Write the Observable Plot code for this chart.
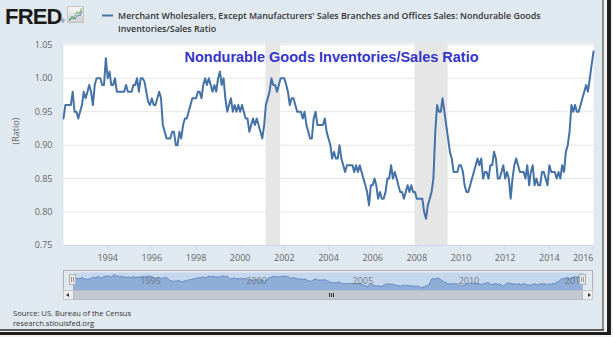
<!DOCTYPE html>
<html>
<head>
<meta charset="utf-8">
<script src="https://cdn.jsdelivr.net/npm/d3@7"></script>
<script src="https://cdn.jsdelivr.net/npm/@observablehq/plot@0.6"></script>
<style>
  body { margin: 0; background: #f4f4f4; }
  #wrap { position: relative; width: 613px; height: 337px; overflow: hidden; background: #f4f4f4; font-family: "Open Sans", sans-serif; }
  #page { position: absolute; left: 0; top: 0; width: 602px; height: 329px; background: #e1e9f0; overflow: hidden; }
  #main { position: absolute; left: 0; top: 0; }
  #nav { position: absolute; left: 63px; top: 270px; }
  .abs { position: absolute; }
</style>
</head>
<body>
<div id="wrap">
  <div id="page">
    <div id="main"></div>
    <div id="nav"></div>
    <!-- navigator outline -->
    <div class="abs" style="left:63px;top:270px;width:530px;height:1px;background:#b2b1b6"></div>
    <div class="abs" style="left:63px;top:270px;width:1px;height:20px;background:#b2b1b6"></div>
    <div class="abs" style="left:592px;top:270px;width:1px;height:20px;background:#b2b1b6"></div>
    <!-- navigator handles -->
    <div class="abs" style="left:69px;top:274px;width:7px;height:11px;background:#ebe7e8;border:1px solid #b2b1b6;box-sizing:border-box"></div>
    <div class="abs" style="left:71px;top:277px;width:1px;height:5px;background:#999"></div>
    <div class="abs" style="left:73px;top:277px;width:1px;height:5px;background:#999"></div>
    <div class="abs" style="left:579px;top:274px;width:7px;height:11px;background:#ebe7e8;border:1px solid #b2b1b6;box-sizing:border-box"></div>
    <div class="abs" style="left:581px;top:277px;width:1px;height:5px;background:#999"></div>
    <div class="abs" style="left:583px;top:277px;width:1px;height:5px;background:#999"></div>
    <!-- scrollbar -->
    <div class="abs" style="left:63px;top:290px;width:530px;height:10px;background:#eeeeee;border:1px solid #c8c8c8;box-sizing:border-box"></div>
    <div class="abs" style="left:73px;top:290px;width:510px;height:10px;background:#c2c9d1;border:1px solid #b4bcc4;box-sizing:border-box"></div>
    <div class="abs" style="left:66px;top:293px;width:0;height:0;border-top:2px solid transparent;border-bottom:2px solid transparent;border-right:3px solid #333"></div>
    <div class="abs" style="left:588px;top:293px;width:0;height:0;border-top:2px solid transparent;border-bottom:2px solid transparent;border-left:3px solid #333"></div>
    <div class="abs" style="left:329px;top:293px;width:1px;height:4px;background:#333"></div>
    <div class="abs" style="left:331px;top:293px;width:1px;height:4px;background:#333"></div>
    <div class="abs" style="left:333px;top:293px;width:1px;height:4px;background:#333"></div>
    <!-- header and footer texts -->
    <svg class="abs" style="left:0;top:0" width="602" height="329">
      <text x="5" y="23.5" font-family="'Liberation Sans', Arial, sans-serif" font-weight="bold" font-size="22" letter-spacing="-0.8" fill="#1a1a1a">FRED</text>
      <text x="61" y="23" font-family="'Liberation Sans', Arial, sans-serif" font-size="5" fill="#333">®</text>
      <defs><linearGradient id="ig" x1="0" y1="0" x2="0" y2="1"><stop offset="0" stop-color="#f6f6f6"/><stop offset="1" stop-color="#cfcfcf"/></linearGradient></defs>
      <rect x="67.5" y="6.5" width="16" height="16" fill="url(#ig)" stroke="#c4c4c4"/>
      <polyline points="69,20 72,16 74,18 77,12 79,14 82,8" fill="none" stroke="#67a94a" stroke-width="1"/>
      <polyline points="69,21 72,18 75,19 78,15 80,16 82,11" fill="none" stroke="#5a82bd" stroke-width="1"/>
      <line x1="102" y1="15.5" x2="113" y2="15.5" stroke="#4572a7" stroke-width="2"/>
      <text x="118" y="18.8" font-family="'Open Sans', sans-serif" font-weight="600" font-size="8.85" fill="#333">Merchant Wholesalers, Except Manufacturers' Sales Branches and Offices Sales: Nondurable Goods</text>
      <text x="118" y="31.7" font-family="'Open Sans', sans-serif" font-weight="600" font-size="8.85" fill="#333">Inventories/Sales Ratio</text>
      <text x="13" y="315.5" font-family="'Open Sans', sans-serif" font-size="7.6" fill="#333">Source: US. Bureau of the Census</text>
      <text x="13" y="326.3" font-family="'Open Sans', sans-serif" font-size="7.6" fill="#333">research.stlouisfed.org</text>
    </svg>
  </div>
  <!-- screenshot frame -->
  <div class="abs" style="left:602px;top:0;width:2px;height:331px;background:#8a8a8a"></div>
  <div class="abs" style="left:0;top:329px;width:604px;height:2px;background:#5a5a5a"></div>
  <div class="abs" style="left:607px;top:0;width:4px;height:335px;background:#1e1e1e"></div>
  <div class="abs" style="left:0;top:332px;width:611px;height:3px;background:#1e1e1e"></div>
</div>
<script>
// ---- data (monthly) ----
const startMonth = "1992-01-01";
const endMonth = "2016-01-01";
const ratio = [
  // 1992
  0.94, 0.96, 0.96, 0.96, 0.96, 0.98, 0.95, 0.95, 0.94, 0.95, 0.96, 0.98,
  // 1993
  0.97, 0.98, 0.99, 0.98, 0.96, 0.99, 1.00, 1.00, 1.00, 0.99, 0.99, 1.03,
  // 1994
  1.00, 1.01, 0.99, 0.99, 1.00, 0.98, 0.98, 0.98, 0.98, 0.98, 0.99, 0.98,
  // 1995
  0.98, 0.98, 0.99, 0.99, 1.00, 0.98, 1.00, 1.00, 0.995, 0.98, 0.965, 0.96,
  // 1996
  0.97, 0.96, 0.96, 0.97, 0.98, 0.97, 0.93, 0.92, 0.91, 0.91, 0.91, 0.92,
  // 1997
  0.92, 0.90, 0.90, 0.92, 0.91, 0.93, 0.94, 0.94, 0.95, 0.96, 0.97, 0.97,
  // 1998
  0.97, 0.98, 0.98, 0.97, 0.99, 1.00, 0.99, 1.00, 0.99, 0.98, 0.99, 0.98,
  // 1999
  1.00, 1.01, 0.99, 1.00, 0.97, 0.95, 0.96, 0.97, 0.95, 0.96, 0.95, 0.96,
  // 2000
  0.95, 0.96, 0.95, 0.94, 0.94, 0.92, 0.93, 0.94, 0.93, 0.94, 0.93, 0.92,
  // 2001
  0.91, 0.93, 0.96, 0.97, 0.98, 1.00, 0.99, 0.99, 0.98, 0.99, 1.00, 1.00,
  // 2002
  1.00, 0.99, 0.98, 0.96, 0.97, 0.97, 0.96, 0.95, 0.95, 0.95, 0.94, 0.95,
  // 2003
  0.93, 0.92, 0.91, 0.91, 0.94, 0.95, 0.93, 0.93, 0.93, 0.93, 0.94, 0.92,
  // 2004
  0.91, 0.90, 0.88, 0.89, 0.88, 0.88, 0.90, 0.88, 0.87, 0.86, 0.87, 0.87,
  // 2005
  0.87, 0.87, 0.86, 0.87, 0.86, 0.87, 0.86, 0.85, 0.84, 0.83, 0.81, 0.84,
  // 2006
  0.84, 0.85, 0.84, 0.82, 0.83, 0.82, 0.82, 0.83, 0.85, 0.85, 0.87, 0.85,
  // 2007
  0.86, 0.85, 0.84, 0.83, 0.83, 0.82, 0.83, 0.84, 0.83, 0.84, 0.83, 0.83,
  // 2008
  0.82, 0.82, 0.82, 0.82, 0.80, 0.79, 0.81, 0.82, 0.83, 0.85, 0.92, 0.96,
  // 2009
  0.95, 0.95, 0.97, 0.95, 0.93, 0.91, 0.89, 0.88, 0.86, 0.86, 0.86, 0.87,
  // 2010
  0.87, 0.86, 0.84, 0.83, 0.83, 0.84, 0.85, 0.86, 0.87, 0.88, 0.87, 0.88,
  // 2011
  0.85, 0.86, 0.86, 0.85, 0.87, 0.87, 0.89, 0.88, 0.85, 0.85, 0.86, 0.87,
  // 2012
  0.85, 0.86, 0.85, 0.82, 0.85, 0.87, 0.88, 0.87, 0.86, 0.86, 0.86, 0.85,
  // 2013
  0.87, 0.84, 0.86, 0.87, 0.84, 0.85, 0.84, 0.84, 0.86, 0.86, 0.85, 0.84,
  // 2014
  0.87, 0.86, 0.86, 0.86, 0.85, 0.86, 0.85, 0.87, 0.86, 0.89, 0.90, 0.92,
  // 2015
  0.96, 0.95, 0.96, 0.95, 0.95, 0.96, 0.97, 0.98, 0.99, 0.98, 1.00, 1.02,
  // 2016
  1.04
];
const recessionStarts = ["2001-03-01", "2007-12-01"];
const recessionEnds = ["2001-11-01", "2009-06-01"];
const yTicks = [0.75, 0.80, 0.85, 0.90, 0.95, 1.00, 1.05];
const xTickYears = [1994, 1996, 1998, 2000, 2002, 2004, 2006, 2008, 2010, 2012, 2014];
const xLastTickYear = [2016];
const navTickYears = [1995, 2000, 2005, 2010, 2015];
const chartTitle = "Nondurable Goods Inventories/Sales Ratio";
const yAxisLabel = "(Ratio)";
const yDomain = [0.75, 1.052];
const navYDomain = [0.736, 1.067];

// ---- build tables ----
const start = new Date(startMonth);
const end = new Date(endMonth);
const series = ratio.map((v, i) => ({date: d3.utcMonth.offset(start, i), value: v}));
const recessions = recessionStarts.map((s, i) => ({start: new Date(s), end: new Date(recessionEnds[i])}));
const yearDate = y => new Date(Date.UTC(y, 0, 1));

const main = Plot.plot({
  width: 602,
  height: 329,
  marginLeft: 63,
  marginRight: 9,
  marginTop: 43,
  marginBottom: 84,
  style: {background: "transparent", fontFamily: "'Open Sans', sans-serif", fontSize: "9px", overflow: "visible"},
  x: {type: "utc", domain: [start, end]},
  y: {domain: yDomain},
  marks: [
    Plot.frame({fill: "white", stroke: "none"}),
    Plot.rect(recessions, {x1: "start", x2: "end", y1: () => yDomain[0], y2: () => yDomain[1], fill: "#e6e6e6"}),
    Plot.gridY(yTicks, {stroke: "#e6e6e6", strokeOpacity: 1}),
    Plot.ruleY([yDomain[0]], {stroke: "#ccd6eb"}),
    Plot.lineY(series, {x: "date", y: "value", stroke: "#4572a7", strokeWidth: 2, strokeLinejoin: "round"}),
    Plot.axisY(yTicks, {tickSize: 0, tickPadding: 11, tickFormat: d3.format(".2f"), fill: "#666", label: null}),
    Plot.axisX(xTickYears.map(yearDate), {tickSize: 5, tickPadding: 4, stroke: "#ccd6eb", fill: "#666", tickFormat: d3.utcFormat("%Y"), label: null}),
    Plot.axisX(xLastTickYear.map(yearDate), {tickSize: 5, tickPadding: 4, stroke: "#ccd6eb", fill: "#666", tickFormat: d3.utcFormat("%Y"), textAnchor: "end", label: null}),
    Plot.text([yAxisLabel], {frameAnchor: "left", dx: -47, rotate: -90, fill: "#666", fontSize: 9}),
    Plot.text([chartTitle], {frameAnchor: "top-left", dx: 121, dy: 18.5, textAnchor: "start", lineAnchor: "bottom", fill: "#3535c9", fontWeight: "bold", fontSize: 14.5, fontFamily: "'Liberation Sans', Arial, sans-serif"})
  ]
});
document.getElementById("main").append(main);

const nav = Plot.plot({
  width: 530,
  height: 21,
  marginLeft: 10,
  marginRight: 10.5,
  marginTop: 2,
  marginBottom: 0.5,
  style: {background: "transparent", fontFamily: "'Open Sans', sans-serif", fontSize: "9px", overflow: "visible"},
  x: {type: "utc", domain: [start, end], axis: null},
  y: {domain: navYDomain, axis: null},
  marks: [
    Plot.frame({fill: "#c5d7ec", stroke: "none"}),
    Plot.areaY(series, {x: "date", y1: () => navYDomain[0], y2: "value", fill: "#8eaed8"}),
    Plot.lineY(series, {x: "date", y: "value", stroke: "#6a8ec4", strokeWidth: 1}),
    Plot.text(navTickYears, {x: d => yearDate(d), text: d => String(d), frameAnchor: "bottom", dy: -7, dx: 3, textAnchor: "start", fill: "#6f7986", fontSize: 9})
  ]
});
document.getElementById("nav").append(nav);
</script>
</body>
</html>
